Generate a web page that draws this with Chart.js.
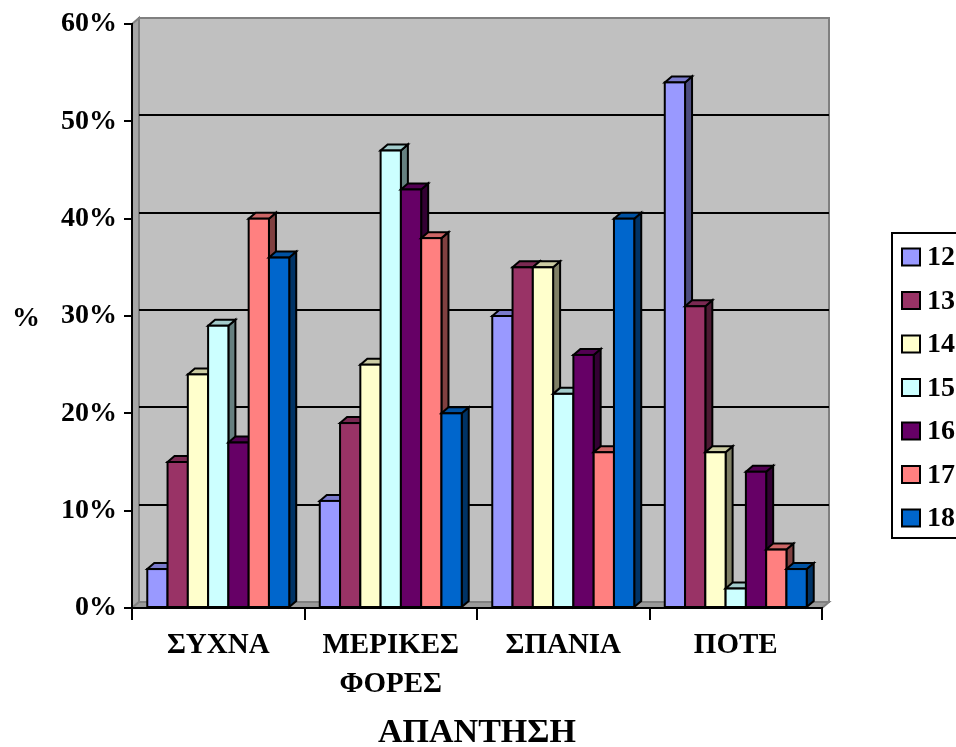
<!DOCTYPE html>
<html>
<head>
<meta charset="utf-8">
<script src="https://cdn.jsdelivr.net/npm/chart.js@4.4.1/dist/chart.umd.min.js"></script>
<style>
  html, body { margin: 0; padding: 0; background: #ffffff; overflow: hidden; }
  #wrap { width: 956px; height: 747px; position: relative; }
</style>
</head>
<body>
<div id="wrap"><canvas id="chart" width="956" height="747"></canvas></div>
<script>
// Answer categories (x axis)
const categories = ['ΣΥΧΝΑ', ['ΜΕΡΙΚΕΣ', 'ΦΟΡΕΣ'], 'ΣΠΑΝΙΑ', 'ΠΟΤΕ'];
// Series names (ages)
const seriesLabels = ['12', '13', '14', '15', '16', '17', '18'];
// Percentages per age, in category order
const age12 = [4, 11, 30, 54];
const age13 = [15, 19, 35, 31];
const age14 = [24, 25, 35, 16];
const age15 = [29, 47, 22, 2];
const age16 = [17, 43, 26, 14];
const age17 = [40, 38, 16, 6];
const age18 = [36, 20, 40, 4];
// Value axis ticks
const yTicks = [0, 10, 20, 30, 40, 50, 60];

const seriesValues = [age12, age13, age14, age15, age16, age17, age18];
const seriesColors = ['#9999FF', '#993366', '#FFFFCC', '#CCFFFF', '#660066', '#FF8080', '#0066CC'];

const FONT = 'Liberation Serif';
const DX = 7, DY = 6;   // depth of the 3D walls and bars

function shade(hex, f) {
  const n = parseInt(hex.slice(1), 16);
  const r = Math.round(((n >> 16) & 255) * f);
  const g = Math.round(((n >> 8) & 255) * f);
  const b = Math.round((n & 255) * f);
  return `rgb(${r},${g},${b})`;
}

function poly(ctx, pts, fill, stroke, lw) {
  ctx.beginPath();
  ctx.moveTo(pts[0][0], pts[0][1]);
  for (let i = 1; i < pts.length; i++) ctx.lineTo(pts[i][0], pts[i][1]);
  ctx.closePath();
  if (fill) { ctx.fillStyle = fill; ctx.fill(); }
  if (stroke) { ctx.strokeStyle = stroke; ctx.lineWidth = lw; ctx.stroke(); }
}

const box3d = {
  id: 'box3d',
  beforeDraw(chart) {
    const { ctx, chartArea: a } = chart;
    const ys = chart.scales.y;
    ctx.save();
    ctx.lineJoin = 'miter';
    // back wall
    poly(ctx, [[a.left + DX, a.top - DY], [a.right + DX, a.top - DY], [a.right + DX, a.bottom - DY], [a.left + DX, a.bottom - DY]], '#C0C0C0', '#808080', 2);
    // side wall
    poly(ctx, [[a.left, a.top], [a.left + DX, a.top - DY], [a.left + DX, a.bottom - DY], [a.left, a.bottom]], '#A6A6A6', '#808080', 2);
    // floor
    poly(ctx, [[a.left, a.bottom], [a.right, a.bottom], [a.right + DX, a.bottom - DY], [a.left + DX, a.bottom - DY]], '#9A9A9A', '#808080', 2);
    // gridlines on the back wall
    ctx.strokeStyle = '#000';
    ctx.lineWidth = 2;
    ys.ticks.forEach(t => {
      if (t.value <= ys.min || t.value >= ys.max) return;
      const py = Math.round(ys.getPixelForValue(t.value)) - DY;
      ctx.beginPath();
      ctx.moveTo(a.left + DX, py);
      ctx.lineTo(a.right + DX, py);
      ctx.stroke();
    });
    ctx.restore();
  },
  beforeDatasetsDraw(chart) {
    const { ctx } = chart;
    const metas = chart.getSortedVisibleDatasetMetas().slice().sort((p, q) => p.index - q.index);
    const n = chart.data.labels.length;
    ctx.save();
    ctx.lineJoin = 'miter';
    for (let j = 0; j < n; j++) {
      for (const meta of metas) {
        const bar = meta.data[j];
        if (!bar) continue;
        const { x, y, base, width } = bar.getProps(['x', 'y', 'base', 'width'], true);
        const l = x - width / 2, r = x + width / 2;
        const color = chart.data.datasets[meta.index].backgroundColor;
        // right side face
        poly(ctx, [[r, base], [r + DX, base - DY], [r + DX, y - DY], [r, y]], shade(color, 0.5), '#000', 2);
        // top face
        poly(ctx, [[l, y], [l + DX, y - DY], [r + DX, y - DY], [r, y]], shade(color, 0.8), '#000', 2);
        // front face
        bar.draw(ctx, chart.chartArea);
        ctx.strokeStyle = '#000';
        ctx.lineWidth = 2;
        ctx.strokeRect(l, y, width, base - y);
      }
    }
    ctx.restore();
    return false;
  },
  afterDraw(chart) {
    const { ctx, chartArea: a } = chart;
    const ys = chart.scales.y;
    ctx.save();
    // value axis title, kept horizontal
    ctx.fillStyle = '#000';
    ctx.font = `bold 28px "${FONT}"`;
    ctx.textAlign = 'center';
    ctx.textBaseline = 'middle';
    ctx.fillText(ys.options.title.text, 26, (a.top + a.bottom) / 2 + 3);

    // legend
    const lx = a.right + 70;
    const top = 233, step = 43.5, first = 257;
    ctx.lineWidth = 2;
    ctx.strokeStyle = '#000';
    ctx.strokeRect(lx, top, 120, 305);
    ctx.textAlign = 'left';
    ctx.font = `bold 28px "${FONT}"`;
    chart.data.datasets.forEach((ds, i) => {
      const cy = first + i * step;
      ctx.fillStyle = ds.backgroundColor;
      ctx.fillRect(lx + 10, cy - 8.5, 18, 17);
      ctx.strokeRect(lx + 10, cy - 8.5, 18, 17);
      ctx.fillStyle = '#000';
      ctx.fillText(ds.label, lx + 35, cy + 1);
    });
    ctx.restore();
  }
};

new Chart(document.getElementById('chart'), {
  type: 'bar',
  data: {
    labels: categories,
    datasets: seriesLabels.map((lab, i) => ({
      label: lab,
      data: seriesValues[i],
      backgroundColor: seriesColors[i],
      borderWidth: 0,
      categoryPercentage: 0.823,
      barPercentage: 1
    }))
  },
  options: {
    responsive: false,
    animation: false,
    devicePixelRatio: 1,
    layout: { padding: { top: 24, left: 0, right: 134, bottom: 0 } },
    plugins: {
      legend: { display: false },
      tooltip: { enabled: false }
    },
    scales: {
      x: {
        grid: { drawOnChartArea: false, drawTicks: true, tickLength: 12, color: '#000', lineWidth: 2, offset: true },
        border: { display: true, color: '#000', width: 2 },
        ticks: {
          color: '#000', maxRotation: 0, autoSkip: false, padding: 6,
          font: { family: FONT, size: 29, weight: 'bold', lineHeight: '39px' }
        },
        title: {
          display: true, text: 'ΑΠΑΝΤΗΣΗ', color: '#000',
          font: { family: FONT, size: 34, weight: 'bold', lineHeight: '28px' },
          padding: { top: 0, bottom: 0 }
        },
        afterFit(s) { s.height = 139; }
      },
      y: {
        min: 0, max: 60,
        afterBuildTicks(s) { s.ticks = yTicks.map(v => ({ value: v })); },
        grid: { drawOnChartArea: false, drawTicks: true, tickLength: 8, color: '#000', lineWidth: 2 },
        border: { display: true, color: '#000', width: 2 },
        ticks: {
          color: '#000', padding: 7,
          font: { family: FONT, size: 28, weight: 'bold' },
          callback: v => v + '%'
        },
        title: { display: false, text: '%' },
        afterFit(s) { s.width = 132; }
      }
    }
  },
  plugins: [box3d]
});
</script>
</body>
</html>
